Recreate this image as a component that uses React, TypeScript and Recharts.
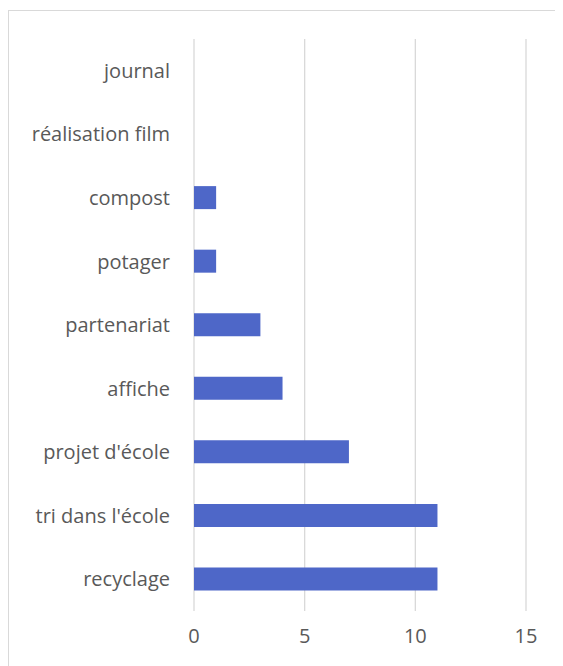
import { BarChart, Bar, XAxis, YAxis, CartesianGrid } from 'recharts';

const categories = [
  'journal',
  'réalisation film',
  'compost',
  'potager',
  'partenariat',
  'affiche',
  "projet d'école",
  "tri dans l'école",
  'recyclage',
];
const counts = [0, 0, 1, 1, 3, 4, 7, 11, 11];
const xTicks = [0, 5, 10, 15];

const data = categories.map((name, i) => ({ name, value: counts[i] }));

const font = "'Open Sans', 'Noto Sans', sans-serif";

export default function App() {
  return (
    <div
      style={{
        marginTop: 2,
        width: 570,
        height: 680,
        border: '1px solid #d9d9d9',
        background: '#fff',
        boxSizing: 'border-box',
      }}
    >
      <BarChart
        width={553}
        height={660}
        data={data}
        layout="vertical"
        margin={{ top: 28, right: 36, left: 0, bottom: 20 }}
      >
        <CartesianGrid horizontal={false} stroke="#d9d9d9" strokeWidth={1.3} />
        <XAxis
          type="number"
          domain={[0, 15]}
          ticks={xTicks}
          axisLine={false}
          tickLine={false}
          tickMargin={12}
          height={40}
          tick={{ fill: '#595959', fontSize: 20, fontFamily: font }}
        />
        <YAxis
          type="category"
          dataKey="name"
          width={185}
          axisLine={false}
          tickLine={false}
          tickSize={0}
          tickMargin={24}
          tick={{ fill: '#595959', fontSize: 20, fontFamily: font }}
        />
        <Bar dataKey="value" fill="#4e67c8" barSize={23} isAnimationActive={false} />
      </BarChart>
    </div>
  );
}
